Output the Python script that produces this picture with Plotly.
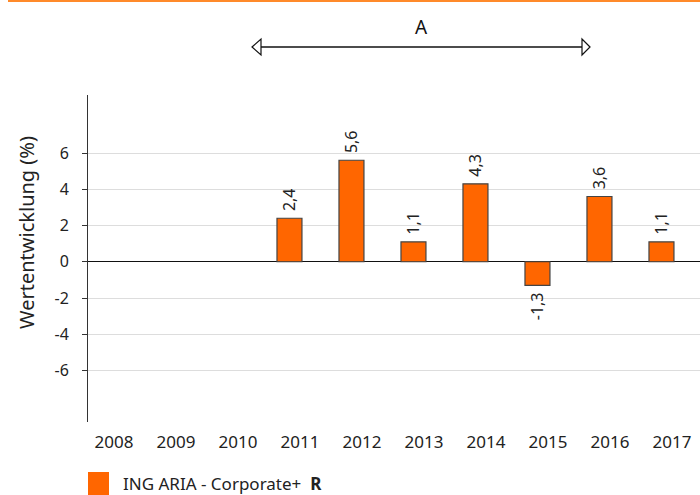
import plotly.graph_objects as go

years = ["2008", "2009", "2010", "2011", "2012", "2013", "2014", "2015", "2016", "2017"]
values = [None, None, None, 2.4, 5.6, 1.1, 4.3, -1.3, 3.6, 1.1]
tick_vals = [6, 4, 2, 0, -2, -4, -6]
tick_text = ["6", "4", "2", "0", "-2", "-4", "-6"]
series_name = "ING ARIA - Corporate+"
y_title = "Wertentwicklung (%)"
period_label = "A"

W, H = 700, 495
L, R, T, B = 88, 0, 95, 73

def px(x):
    return (x - L) / (W - L - R)

def py(y):
    return (H - B - y) / (H - T - B)

FONT = "Noto Sans, Open Sans, sans-serif"
ORANGE = "#FF6600"
NB = "\u00a0"

def fmt(v):
    if v is None:
        return None
    s = f"{v:.1f}".replace(".", ",")
    return NB + s if v >= 0 else s + NB

fig = go.Figure()
fig.add_trace(go.Bar(
    x=years, y=values, width=0.403, offset=-0.371,
    marker=dict(color=ORANGE, line=dict(color="#444444", width=1.2)),
    text=[fmt(v) for v in values],
    textposition="outside", textangle=-90, cliponaxis=False,
    constraintext="none",
    textfont=dict(family=FONT, size=16, color="#222222"),
    showlegend=False,
))

shapes = []
shapes.append(dict(type="line", xref="paper", yref="paper", x0=px(8), x1=px(700), y0=py(1), y1=py(1),
                   line=dict(color="#FF8A2A", width=2)))
ay = 47
shapes.append(dict(type="line", xref="paper", yref="paper", x0=px(261), x1=px(582), y0=py(ay), y1=py(ay),
                   line=dict(color="#111111", width=1.3)))
def tri(pts):
    return "M " + " L ".join(f"{px(a)},{py(b)}" for a, b in pts) + " Z"
shapes.append(dict(type="path", xref="paper", yref="paper",
                   path=tri([(252, ay), (261, ay - 8), (261, ay + 8)]),
                   fillcolor="white", line=dict(color="#111111", width=1.2)))
shapes.append(dict(type="path", xref="paper", yref="paper",
                   path=tri([(590, ay), (582, ay - 8), (582, ay + 8)]),
                   fillcolor="white", line=dict(color="#111111", width=1.2)))
shapes.append(dict(type="rect", xref="paper", yref="paper", x0=px(88), x1=px(109), y0=py(472), y1=py(495),
                   fillcolor=ORANGE, line=dict(width=0)))

annotations = [
    dict(text=period_label, xref="paper", yref="paper", x=px(421), y=py(27), showarrow=False,
         font=dict(family=FONT, size=19, color="#111111"), xanchor="center", yanchor="middle"),
    dict(text=y_title, xref="paper", yref="paper", x=px(26), y=py(233), showarrow=False, textangle=-90,
         font=dict(family=FONT, size=20, color="#222222"), xanchor="center", yanchor="middle"),
    dict(text=f"{series_name}  <b>R</b>", xref="paper", yref="paper", x=px(121), y=py(483), showarrow=False,
         font=dict(family=FONT, size=17, color="#222222"), xanchor="left", yanchor="middle"),
]

fig.update_layout(
    width=W, height=H,
    margin=dict(l=L, r=R, t=T, b=B, pad=0),
    plot_bgcolor="white", paper_bgcolor="white",
    shapes=shapes, annotations=annotations,
    font=dict(family=FONT, color="#222222"),
    xaxis=dict(type="category", range=[-0.419, 9.452], showgrid=False, showline=False, ticks="",
               tickfont=dict(size=17, color="#222222"), zeroline=False, ticklabelstandoff=8),
    yaxis=dict(range=[-8.84, 9.2], tickvals=tick_vals, ticktext=tick_text,
               showgrid=True, gridcolor="#DDDDDD", gridwidth=1,
               zeroline=True, zerolinecolor="#111111", zerolinewidth=1,
               showline=True, linecolor="#333333", linewidth=1,
               ticks="outside", ticklen=5, tickcolor="#333333",
               tickfont=dict(size=16, color="#222222"), ticklabelstandoff=10),
)

fig.write_html("out.html", config={"displayModeBar": False},
               post_script="document.body.style.margin='0px';")
